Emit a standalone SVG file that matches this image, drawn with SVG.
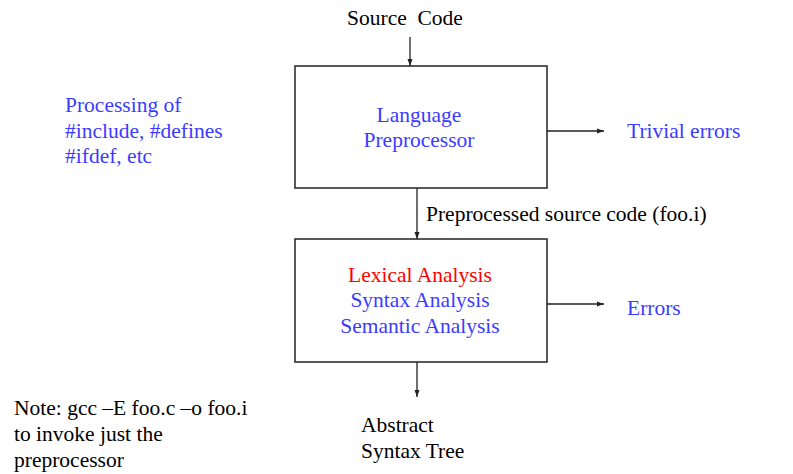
<svg xmlns="http://www.w3.org/2000/svg" width="793" height="474" viewBox="0 0 793 474">
<style>
text{font-family:"Liberation Serif","Times New Roman",serif;font-size:21.5px}
.k{fill:#000}
.b{fill:#3b3bff}
.r{fill:#ff0000}
.box{fill:#fff;stroke:#222;stroke-width:1.5}
.ln{stroke:#222;stroke-width:1.3;fill:none;marker-end:url(#ah)}
</style>
<defs>
<marker id="ah" markerWidth="8" markerHeight="6" refX="7" refY="3" orient="auto" markerUnits="userSpaceOnUse">
<path d="M0,0.5 L7,3 L0,5.5 Z" fill="#222"/>
</marker>
</defs>
<rect width="793" height="474" fill="#fff"/>
<g id="connectors">
<line class="ln" x1="410" y1="37" x2="410" y2="66"/>
<line class="ln" x1="417" y1="188" x2="417" y2="239"/>
<line class="ln" x1="417" y1="362" x2="417" y2="397"/>
<line class="ln" x1="547" y1="131" x2="604" y2="131"/>
<line class="ln" x1="547" y1="304" x2="604" y2="304"/>
</g>
<g id="source"><text class="k" x="405" y="25" text-anchor="middle" xml:space="preserve">Source  Code</text></g>
<g id="preproc">
<rect class="box" x="295" y="66" width="252" height="122"/>
<text class="b" x="419" y="122" text-anchor="middle">Language</text>
<text class="b" x="419" y="147" text-anchor="middle">Preprocessor</text>
</g>
<g id="analysis">
<rect class="box" x="295" y="239" width="252" height="123"/>
<text class="r" x="420" y="282" text-anchor="middle">Lexical Analysis</text>
<text class="b" x="420" y="307" text-anchor="middle">Syntax Analysis</text>
<text class="b" x="420" y="333" text-anchor="middle">Semantic Analysis</text>
</g>
<g id="trivial"><text class="b" x="627" y="138">Trivial errors</text></g>
<g id="errors"><text class="b" x="627" y="315">Errors</text></g>
<g id="prepsrc"><text class="k" x="426" y="221">Preprocessed source code (foo.i)</text></g>
<g id="processing">
<text class="b" x="65" y="112">Processing of</text>
<text class="b" x="65" y="138">#include, #defines</text>
<text class="b" x="65" y="163">#ifdef, etc</text>
</g>
<g id="note">
<text class="k" x="14" y="415">Note: gcc –E foo.c –o foo.i</text>
<text class="k" x="14" y="441">to invoke just the</text>
<text class="k" x="14" y="467">preprocessor</text>
</g>
<g id="ast">
<text class="k" x="361" y="432">Abstract</text>
<text class="k" x="361" y="458">Syntax Tree</text>
</g>
</svg>
